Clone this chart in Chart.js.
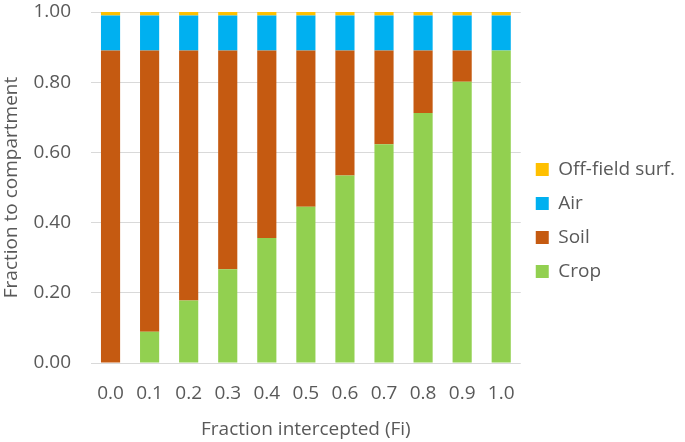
<!DOCTYPE html>
<html>
<head>
<meta charset="utf-8">
<script src="https://cdn.jsdelivr.net/npm/chart.js@4"></script>
<style>
  html, body { margin: 0; padding: 0; background: #fff; }
  #wrap { width: 685px; height: 442px; }
</style>
</head>
<body>
<div id="wrap"><canvas id="myChart"></canvas></div>
<script>
const categories = ['0.0', '0.1', '0.2', '0.3', '0.4', '0.5', '0.6', '0.7', '0.8', '0.9', '1.0']
const crop = [0, 0.089, 0.178, 0.267, 0.356, 0.445, 0.534, 0.623, 0.712, 0.801, 0.89]
const soil = [0.89, 0.801, 0.712, 0.623, 0.534, 0.445, 0.356, 0.267, 0.178, 0.089, 0]
const air = [0.10, 0.10, 0.10, 0.10, 0.10, 0.10, 0.10, 0.10, 0.10, 0.10, 0.10]
const offField = [0.01, 0.01, 0.01, 0.01, 0.01, 0.01, 0.01, 0.01, 0.01, 0.01, 0.01]

;(() => {
  'use strict'

  Chart.defaults.font.family = '"Open Sans", sans-serif'
  Chart.defaults.color = '#595959'

  const bar = { barPercentage: 0.49, categoryPercentage: 1.0 }

  const ctx = document.getElementById('myChart')
  // eslint-disable-next-line no-unused-vars
  const myChart = new Chart(ctx, {
    type: 'bar',
    data: {
      labels: categories,
      datasets: [
        { label: 'Crop', data: crop, backgroundColor: '#92D050', ...bar },
        { label: 'Soil', data: soil, backgroundColor: '#C55A11', ...bar },
        { label: 'Air', data: air, backgroundColor: '#00B0F0', ...bar },
        { label: 'Off-field surf.', data: offField, backgroundColor: '#FFC000', ...bar }
      ]
    },
    options: {
      responsive: true,
      maintainAspectRatio: false,
      animation: false,
      layout: { padding: { top: 0, left: 0, right: 0, bottom: 1 } },
      scales: {
        x: {
          stacked: true,
          grid: { display: false, drawTicks: false },
          border: { display: false },
          ticks: { font: { size: 19 }, padding: 19, maxRotation: 0 },
          title: { display: true, text: 'Fraction intercepted (Fi)', font: { size: 19 }, padding: { top: 13, bottom: 0 } },
          afterFit: scale => {
            scale.height = 78
          }
        },
        y: {
          stacked: true,
          min: 0,
          max: 1,
          grid: { color: '#d9d9d9', drawTicks: false },
          border: { display: false },
          ticks: {
            stepSize: 0.2,
            font: { size: 19 },
            padding: 20,
            callback: v => v.toFixed(2)
          },
          title: { display: true, text: 'Fraction to compartment', font: { size: 19 }, padding: { top: 0, bottom: 2 } },
          afterFit: scale => {
            // keep the tick padding out of the vertical room
            scale.width = 91
            scale.paddingTop = 12
            scale.paddingBottom = 8
          }
        }
      },
      plugins: {
        legend: {
          position: 'right',
          reverse: true,
          labels: {
            boxWidth: 13,
            boxHeight: 13,
            padding: 15,
            font: { size: 19 }
          }
        },
        tooltip: { enabled: false }
      }
    }
  })
})()
</script>
</body>
</html>
